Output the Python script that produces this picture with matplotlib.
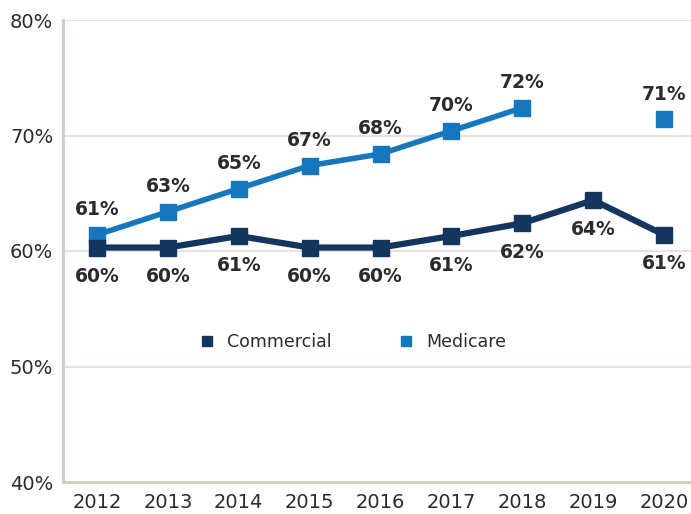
import numpy as np
import matplotlib.pyplot as plt

years = [2012, 2013, 2014, 2015, 2016, 2017, 2018, 2019, 2020]
commercial = [60.3, 60.3, 61.3, 60.3, 60.3, 61.3, 62.4, 64.4, 61.4]
medicare = [61.4, 63.4, 65.4, 67.4, 68.4, 70.4, 72.4, np.nan, 71.4]

c_com = "#14365e"
c_med = "#1777bc"
txt = "#2b2b2b"

plt.rcParams['font.family'] = ['DejaVu Sans']

fig = plt.figure(figsize=(6.91, 5.14), dpi=100)
ax = fig.add_axes([63 / 691, 1 - 482 / 514, (691 - 63) / 691, (482 - 20) / 514])

ax.plot(years, commercial, color=c_com, lw=4.5, marker="s", ms=12,
        label="Commercial", zorder=3)
ax.plot(years, medicare, color=c_med, lw=4, marker="s", ms=12,
        label="Medicare", zorder=2)

for x, v in zip(years, commercial):
    ax.annotate(f"{v:.0f}%", (x, v), xytext=(0, -21), textcoords="offset points",
                ha="center", va="center", fontsize=13.5, fontweight="bold", color=txt)
for x, v in zip(years, medicare):
    if np.isnan(v):
        continue
    ax.annotate(f"{v:.0f}%", (x, v), xytext=(0, 18), textcoords="offset points",
                ha="center", va="center", fontsize=13.5, fontweight="bold", color=txt)

ax.set_xlim(2011.52, 2020.38)
ax.set_ylim(40, 80)
ax.set_yticks([40, 50, 60, 70, 80])
ax.set_yticklabels(["40%", "50%", "60%", "70%", "80%"])
ax.set_xticks(years)
ax.tick_params(length=0, labelsize=14, labelcolor=txt)
ax.tick_params(axis="y", pad=7)
ax.tick_params(axis="x", pad=8)
ax.grid(axis="y", color="#e4dcd7", lw=1.2)
ax.set_axisbelow(True)
for s in ["top", "right"]:
    ax.spines[s].set_visible(False)
for s in ["left", "bottom"]:
    ax.spines[s].set_color("#d6c8c1")
    ax.spines[s].set_linewidth(2)

leg = ax.legend(loc="center", bbox_to_anchor=(0.462, 0.303), ncol=2, frameon=False,
                fontsize=12.5, markerscale=0.55, handlelength=0.8, handletextpad=0.75,
                columnspacing=3.85)
for h in leg.get_lines():
    h.set_linestyle("none")
for t in leg.get_texts():
    t.set_color(txt)

fig.savefig("out.png", dpi=100)
